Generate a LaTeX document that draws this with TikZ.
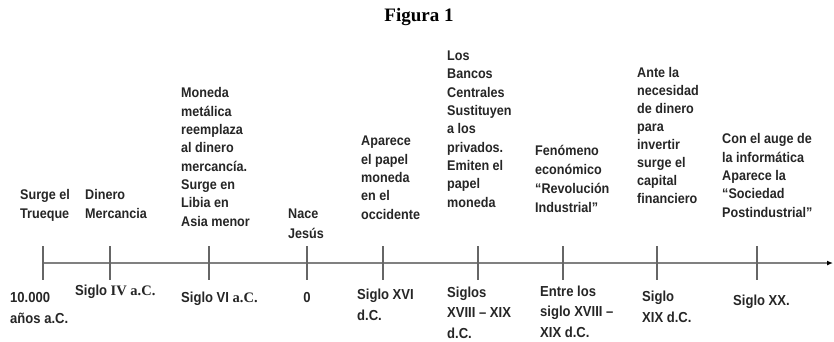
\documentclass[tikz,border=0pt]{standalone}
\usepackage{fontspec}
\setmainfont{Liberation Sans}
\newfontfamily\lbl{Liberation Sans}[FakeStretch=0.9]
\newfontfamily\serifl{Liberation Serif}
\usetikzlibrary{arrows.meta}
\begin{document}
\begin{tikzpicture}[x=1pt,y=-1pt,
  toplbl/.style={anchor=base west, align=left, inner sep=0pt, text=black!85,
    font=\lbl\bfseries\fontsize{14}{18.3}\selectfont},
  botlbl/.style={anchor=base west, align=left, inner sep=0pt, text=black!85,
    font=\lbl\bfseries\fontsize{14.5}{20.5}\selectfont},
  tickmark/.style={draw=black!60, line width=1.4pt},
  axisline/.style={draw=black!50, line width=2.2pt,
    -{Latex[length=6pt,width=5pt,color=black]}}
]
\useasboundingbox (0,0) rectangle (834,341);
\fill[white] (0,0) rectangle (834,341);

\node[anchor=base, inner sep=0pt, font=\serifl\bfseries\fontsize{19}{22}\selectfont] (title) at (419,21) {Figura 1};

% axis
\coordinate (axstart) at (43,263);
\coordinate (axend) at (833,263);
\draw[axisline] (axstart) -- (axend);
\foreach \x in {43,110,209,307,383,478,563,657,757}{
  \draw[tickmark] (\x,246) -- (\x,280);
}

% top labels (position = baseline of last line)
\node[toplbl] (a1) at (20,218) {Surge el\\Trueque};
\node[toplbl] (a2) at (85,218) {Dinero\\Mercancia};
\node[toplbl] (a3) at (181,226) {Moneda\\metálica\\reemplaza\\al dinero\\mercancía.\\Surge en\\Libia en\\Asia menor};
\node[toplbl, font=\lbl\bfseries\fontsize{14}{20}\selectfont] (a4) at (288,238) {Nace\\Jesús};
\node[toplbl] (a5) at (361,219) {Aparece\\el papel\\moneda\\en el\\occidente};
\node[toplbl] (a6) at (447,207) {Los\\Bancos\\Centrales\\Sustituyen\\a los\\privados.\\Emiten el\\papel\\moneda};
\node[toplbl, font=\lbl\bfseries\fontsize{14}{19}\selectfont] (a7) at (535,212) {Fenómeno\\económico\\“Revolución\\Industrial”};
\node[toplbl, font=\lbl\bfseries\fontsize{14}{18}\selectfont] (a8) at (637,203) {Ante la\\necesidad\\de dinero\\para\\invertir\\surge el\\capital\\financiero};
\node[toplbl] (a9) at (722,217) {Con el auge de\\la informática\\Aparece la\\“Sociedad\\Postindustrial”};

% bottom labels (position = baseline of last line)
\node[botlbl] (b1) at (10,323) {10.000\\años a.C.};
\node[botlbl] (b2) at (75,295) {Siglo {\serifl\bfseries IV a.C.}};
\node[botlbl] (b3) at (181,302) {Siglo VI {\serifl\bfseries a.C.}};
\node[botlbl, anchor=base] (b4) at (307,302) {0};
\node[botlbl] (b5) at (357,320) {Siglo XVI\\d.C.};
\node[botlbl] (b6) at (447,338) {Siglos\\XVIII – XIX\\d.C.};
\node[botlbl] (b7) at (540,337) {Entre los\\siglo XVIII –\\XIX d.C.};
\node[botlbl] (b8) at (642,322) {Siglo\\XIX d.C.};
\node[botlbl] (b9) at (733,305) {Siglo XX.};
\end{tikzpicture}
\end{document}
